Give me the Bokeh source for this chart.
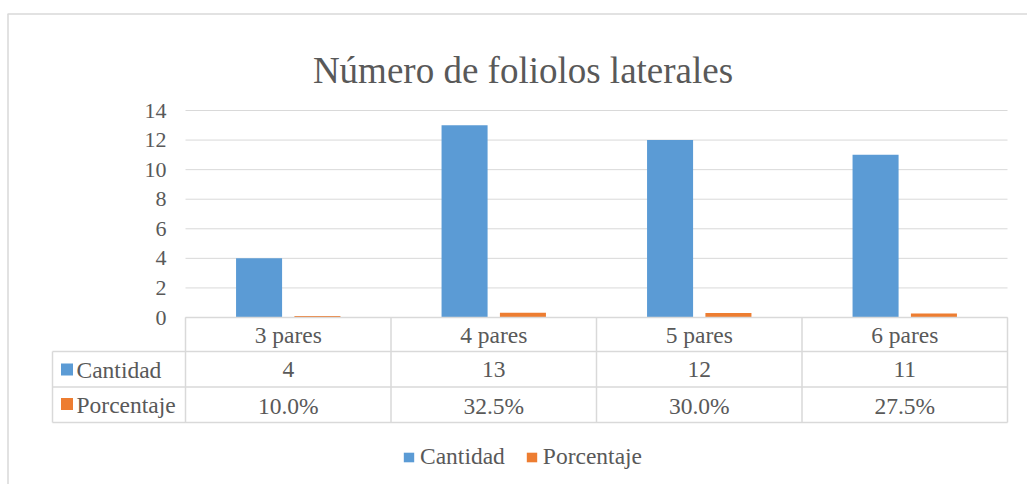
from bokeh.plotting import figure
from bokeh.models import Range1d, LinearAxis, FixedTicker, Legend, LegendItem, Label
from bokeh.core.properties import value
from bokeh.embed import file_html
from bokeh.resources import INLINE

# ---------------- data ----------------
categories = ["3 pares", "4 pares", "5 pares", "6 pares"]
cantidad = [4, 13, 12, 11]
porcentaje = [0.100, 0.325, 0.300, 0.275]
porcentaje_labels = ["10.0%", "32.5%", "30.0%", "27.5%"]
cantidad_labels = [str(v) for v in cantidad]
series_names = ["Cantidad", "Porcentaje"]
y_ticks = [0, 2, 4, 6, 8, 10, 12, 14]
title_text = "Número de foliolos laterales"

# ---------------- layout (page pixels) ----------------
W, H = 1027, 484
PAGE_X0, PAGE_Y0 = 0, 0
FRAME_TOP_PX = 0
COL0_PX = 185.0          # left edge of first category column
COL_W_PX = 205.5         # width of one category column
Y0_PX = 317.0            # y of value 0
Y14_PX = 110.0           # y of value 14
PX_PER_UNIT = (Y0_PX - Y14_PX) / 14.0

def xd(px):
    return (px - COL0_PX) / COL_W_PX

def yd(py):
    return (Y0_PX - py) / PX_PER_UNIT

BLUE = "#5B9BD5"
ORANGE = "#ED7D31"
GRID = "#D9D9D9"
TXT = "#595959"
FONT = "Liberation Serif"

p = figure(width=W, height=H, output_backend="svg", toolbar_location=None,
           x_range=Range1d(xd(PAGE_X0), xd(PAGE_X0 + W)),
           y_range=Range1d(yd(PAGE_Y0 + H), yd(FRAME_TOP_PX)),
           x_axis_location=None, y_axis_location=None,
           min_border_left=0, min_border_right=0,
           min_border_top=0, min_border_bottom=0)
p.grid.visible = False
p.outline_line_color = None
p.background_fill_color = "white"
p.border_fill_color = "white"

n = len(categories)

# outer chart border (top and left)
p.segment(x0=[xd(7), xd(7.5)], y0=[yd(13.5), yd(13.5)],
          x1=[xd(PAGE_X0 + W), xd(7.5)], y1=[yd(13.5), yd(PAGE_Y0 + H)],
          line_color=GRID, line_width=1.5)

# gridlines
p.segment(x0=[0] * len(y_ticks), y0=y_ticks, x1=[n] * len(y_ticks), y1=y_ticks,
          line_color=GRID, line_width=1)

# bars
centers = [i + 0.5 for i in range(n)]
OFF = 0.142
BW = 0.224
r_cant = p.vbar(x=[c - OFF for c in centers], top=cantidad, width=BW, bottom=0,
                fill_color=BLUE, line_color=None)
r_pct = p.vbar(x=[c + OFF for c in centers], top=porcentaje, width=BW, bottom=0,
               fill_color=ORANGE, line_color=None)

# y axis
yaxis = LinearAxis(fixed_location=0, ticker=FixedTicker(ticks=y_ticks))
yaxis.axis_line_color = None
yaxis.major_tick_line_color = None
yaxis.minor_tick_line_color = None
yaxis.major_tick_out = 0
yaxis.major_tick_in = 0
yaxis.major_label_standoff = 19
yaxis.major_label_text_font = FONT
yaxis.major_label_text_font_size = "22px"
yaxis.major_label_text_color = TXT
p.add_layout(yaxis, "left")

# data table lines
row_y = [Y0_PX, 351.0, 386.5, 422.0]
lab_left = 52.0
hx0, hy0, hx1, hy1 = [], [], [], []
for k, ry in enumerate(row_y):
    hx0.append(0 if k == 0 else xd(lab_left))
    hx1.append(n)
    hy0.append(yd(ry))
    hy1.append(yd(ry))
# verticals
for i in range(n + 1):
    hx0.append(i); hx1.append(i); hy0.append(yd(row_y[0])); hy1.append(yd(row_y[-1]))
hx0.append(xd(lab_left)); hx1.append(xd(lab_left)); hy0.append(yd(row_y[1])); hy1.append(yd(row_y[-1]))
p.segment(x0=hx0, y0=hy0, x1=hx1, y1=hy1, line_color=GRID, line_width=1.5)

txt_kw = dict(text_font=value(FONT), text_font_size=value("23.5px"), text_color=TXT,
              text_baseline="middle")
p.text(x=centers, y=[yd(334.5)] * n, text=categories, text_align="center", **txt_kw)
p.text(x=centers, y=[yd(369)] * n, text=cantidad_labels, text_align="center", **txt_kw)
p.text(x=centers, y=[yd(405)] * n, text=porcentaje_labels, text_align="center", **txt_kw)
p.text(x=[xd(76)] * 2, y=[yd(369), yd(404.5)], text=series_names, text_align="left", **txt_kw)
p.scatter(x=[xd(66.5)] * 2, y=[yd(369), yd(403.5)], marker="square", size=12,
          fill_color=[BLUE, ORANGE], line_color=None)

# title
p.add_layout(Label(x=xd(522.5), y=yd(70), text=title_text, text_align="center",
                   text_baseline="alphabetic", text_font=FONT, text_font_size="37px",
                   text_color=TXT))

# legend
legend = Legend(items=[LegendItem(label=series_names[0], renderers=[r_cant]),
                       LegendItem(label=series_names[1], renderers=[r_pct])],
                orientation="horizontal", location=(402, 14))
legend.padding = 0
legend.margin = 0
legend.spacing = 20
legend.border_line_color = None
legend.background_fill_alpha = 0
legend.glyph_width = 13
legend.glyph_height = 12
legend.label_standoff = 5
legend.label_text_font = FONT
legend.label_text_font_size = "23.5px"
legend.label_text_color = TXT
p.add_layout(legend)

open("out.html", "w").write(file_html(p, INLINE))
